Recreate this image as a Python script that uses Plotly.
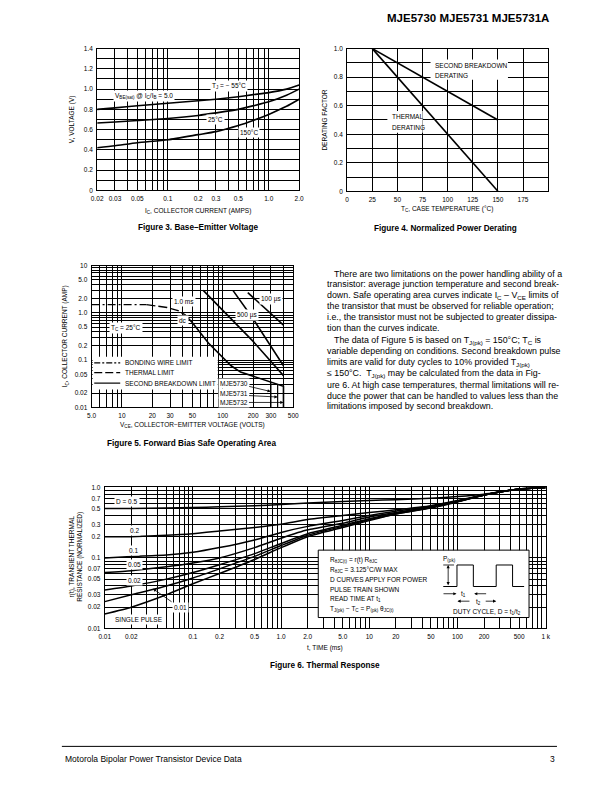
import math
import plotly.graph_objects as go

W, H = 612, 792
FONT = "Liberation Sans, Arial, Helvetica, sans-serif"

# ---------------- Figure 3: base-emitter voltage ----------------
ic_amps = [0.02, 0.03, 0.05, 0.1, 0.2, 0.3, 0.5, 0.7, 1.0, 1.5, 2.0]
vbe_m55 = [0.80, 0.815, 0.835, 0.86, 0.885, 0.90, 0.925, 0.945, 0.965, 1.0, 1.04]
vbe_25 = [0.665, 0.675, 0.69, 0.71, 0.74, 0.765, 0.80, 0.835, 0.875, 0.94, 1.0]
vbe_150 = [0.42, 0.44, 0.47, 0.50, 0.55, 0.58, 0.64, 0.69, 0.75, 0.83, 0.90]

# ---------------- Figure 4: power derating ----------------
tc_deg = [25, 150]
sb_derating = [1.0, 0.5]
th_derating = [1.0, 0.0]

# ---------------- Figure 5: forward bias SOA ----------------
bw_v = [5.0, 17.5]
bw_i = [1.5, 1.5]
thl_v = [17.5, 28, 36, 42]
thl_i = [1.5, 1.3, 1.12, 0.92]
dc_v = [42, 50, 72, 97, 121, 150, 200, 300, 350, 400, 400]
dc_i = [0.92, 0.62, 0.23, 0.124, 0.076, 0.056, 0.046, 0.035, 0.031, 0.028, 0.01]
vceo_v = [300, 350]          # voltage limits of the lower-rated parts
vceo_top = [0.035, 0.031]
ms1_v = [64, 100, 200, 400]
ms1_i = [3.0, 1.15, 0.25, 0.047]
us500_v = [126, 200, 400]
us500_i = [3.0, 0.75, 0.076]
us100_v = [177, 400]
us100_i = [2.7, 0.55]

# ---------------- Figure 6: thermal response ----------------
t_ms = [0.01, 0.02, 0.05, 0.1, 0.2, 0.5, 1.0, 2.0, 5.0, 10, 20, 50, 100, 200, 500, 1000]
r_d05 = [0.50, 0.50, 0.51, 0.52, 0.53, 0.55, 0.57, 0.60, 0.63, 0.65, 0.67, 0.70, 0.74, 0.80, 0.95, 1.0]
r_d02 = [0.20, 0.20, 0.21, 0.22, 0.24, 0.27, 0.30, 0.35, 0.40, 0.44, 0.48, 0.55, 0.65, 0.78, 0.95, 1.0]
r_d01 = [0.10, 0.105, 0.11, 0.12, 0.14, 0.18, 0.23, 0.28, 0.34, 0.40, 0.46, 0.54, 0.64, 0.78, 0.95, 1.0]
r_d005 = [0.062, 0.066, 0.075, 0.085, 0.10, 0.14, 0.19, 0.25, 0.31, 0.38, 0.44, 0.53, 0.63, 0.78, 0.95, 1.0]
r_d002 = [0.035, 0.04, 0.05, 0.062, 0.08, 0.115, 0.16, 0.22, 0.29, 0.36, 0.43, 0.52, 0.63, 0.78, 0.95, 1.0]
r_d001 = [0.024, 0.03, 0.04, 0.052, 0.07, 0.105, 0.15, 0.21, 0.28, 0.35, 0.42, 0.52, 0.63, 0.78, 0.95, 1.0]
r_single = [0.016, 0.02, 0.03, 0.043, 0.06, 0.095, 0.14, 0.20, 0.27, 0.34, 0.42, 0.51, 0.62, 0.78, 0.95, 1.0]

# tick labels
f3_xlabels = {0.02: "0.02", 0.03: "0.03", 0.05: "0.05", 0.1: "0.1", 0.2: "0.2", 0.3: "0.3",
              0.5: "0.5", 1.0: "1.0", 2.0: "2.0"}
f5_xlabels = {5: "5.0", 10: "10", 20: "20", 30: "30", 50: "50", 100: "100", 200: "200",
              300: "300", 500: "500"}
f5_ylabels = {0.01: "0.01", 0.02: "0.02", 0.05: "0.05", 0.1: "0.1", 0.2: "0.2", 0.5: "0.5",
              1: "1.0", 2: "2.0", 5: "5.0", 10: "10"}
f6_xlabels = {0.01: "0.01", 0.02: "0.02", 0.1: "0.1", 0.2: "0.2", 0.5: "0.5", 1: "1.0",
              2: "2.0", 5: "5.0", 10: "10", 20: "20", 50: "50", 100: "100", 200: "200",
              500: "500", 1000: "1 k"}
f6_ylabels = {0.01: "0.01", 0.02: "0.02", 0.03: "0.03", 0.05: "0.05", 0.07: "0.07",
              0.1: "0.1", 0.2: "0.2", 0.3: "0.3", 0.5: "0.5", 0.7: "0.7", 1: "1.0"}


def px(x):
    return x / W


def py(y):
    return 1 - y / H


def log_grid(lo, hi):
    vals = []
    for e in range(math.floor(math.log10(lo)), math.ceil(math.log10(hi)) + 1):
        for m in range(1, 10):
            v = round(m * 10 ** e, 10)
            if lo * 0.999 <= v <= hi * 1.001:
                vals.append(v)
    return vals


def labels_for(vals, lab):
    lk = {round(k, 10): t for k, t in lab.items()}
    return [lk.get(round(v, 10), "") for v in vals]


def axis(box, horiz, rng, vals, texts, typ="linear", anchor=None):
    x0, x1, y0, y1 = box
    dom = [px(x0), px(x1)] if horiz else [py(y1), py(y0)]
    return dict(domain=dom, range=rng, type=typ, tickvals=vals, ticktext=texts,
                showgrid=True, gridcolor="black", gridwidth=0.9, showline=True,
                linecolor="black", linewidth=1, mirror=True, ticks="outside",
                ticklen=2, tickcolor="rgba(0,0,0,0)", zeroline=False, anchor=anchor,
                tickfont=dict(size=6.5, family=FONT, color="black"), fixedrange=True)


box3 = (93, 299, 45, 188)
box4 = (348, 553, 45, 189)
box5 = (87.3, 293, 264, 407)
box6 = (100.7, 550.5, 487.7, 630)

fig = go.Figure()
line = dict(color="black", width=1.6)

# figure 3 curves
for yv in (vbe_m55, vbe_25, vbe_150):
    fig.add_trace(go.Scatter(x=ic_amps, y=yv, mode="lines", xaxis="x", yaxis="y",
                             line=dict(color="black", width=1.6, shape="spline", smoothing=0.6)))
# figure 4 curves
for yv in (sb_derating, th_derating):
    fig.add_trace(go.Scatter(x=tc_deg, y=yv, mode="lines", xaxis="x2", yaxis="y2", line=line))
# figure 5 curves
fig.add_trace(go.Scatter(x=bw_v, y=bw_i, mode="lines", xaxis="x3", yaxis="y3",
                         line=dict(color="black", width=1.4, dash="8px,3px,2px,3px")))
fig.add_trace(go.Scatter(x=thl_v, y=thl_i, mode="lines", xaxis="x3", yaxis="y3",
                         line=dict(color="black", width=1.4, dash="9px,3px")))
for xv, yv in ((dc_v, dc_i), (ms1_v, ms1_i), (us500_v, us500_i), (us100_v, us100_i)):
    fig.add_trace(go.Scatter(x=xv, y=yv, mode="lines", xaxis="x3", yaxis="y3", line=line))
for v, top_i in zip(vceo_v, vceo_top):
    fig.add_trace(go.Scatter(x=[v, v], y=[top_i, 0.01], mode="lines", xaxis="x3", yaxis="y3",
                             line=dict(color="black", width=1.2)))
# figure 6 curves
for yv in (r_d05, r_d02, r_d01, r_d005, r_d002, r_d001, r_single):
    fig.add_trace(go.Scatter(x=t_ms, y=yv, mode="lines", xaxis="x4", yaxis="y4",
                             line=dict(color="black", width=1.5, shape="spline", smoothing=0.5)))

g3x = log_grid(0.02, 2.0)
g3y = [round(0.1 * i, 2) for i in range(15)]
g4x = [0, 25, 50, 75, 100, 125, 150, 175]
g4y = [round(0.1 * i, 2) for i in range(11)]
g5x = log_grid(5, 500)
g5y = log_grid(0.01, 10)
g6x = log_grid(0.01, 1000)
g6y = log_grid(0.01, 1.0)

fig.update_layout(
    width=W, height=H, margin=dict(l=0, r=0, t=0, b=0),
    paper_bgcolor="white", plot_bgcolor="white", showlegend=False,
    font=dict(family=FONT, color="black"),
    xaxis=axis(box3, True, [math.log10(0.02), math.log10(2.0)], g3x, labels_for(g3x, f3_xlabels), "log", "y"),
    yaxis=axis(box3, False, [0, 1.4], g3y, [("0" if v == 0 else f"{v:.1f}") if i % 2 == 0 else "" for i, v in enumerate(g3y)], anchor="x"),
    xaxis2=axis(box4, True, [0, 200], g4x, [str(v) for v in g4x], anchor="y2"),
    yaxis2=axis(box4, False, [0, 1.0], g4y, [("0" if v == 0 else f"{v:.1f}") if i % 2 == 0 else "" for i, v in enumerate(g4y)], anchor="x2"),
    xaxis3=axis(box5, True, [math.log10(5), math.log10(500)], g5x, labels_for(g5x, f5_xlabels), "log", "y3"),
    yaxis3=axis(box5, False, [-2, 1], g5y, labels_for(g5y, f5_ylabels), "log", "x3"),
    xaxis4=axis(box6, True, [-2, 3], g6x, labels_for(g6x, f6_xlabels), "log", "y4"),
    yaxis4=axis(box6, False, [-2, 0], g6y, labels_for(g6y, f6_ylabels), "log", "x4"),
)

anns = []
shapes = []


def txt(x, y, s, size=6.5, xa="center", bg=None, bold=False, angle=0, ya="middle"):
    if bold:
        s = "<b>" + s + "</b>"
    d = dict(x=px(x), y=py(y), xref="paper", yref="paper", text=s, showarrow=False,
             xanchor=xa, yanchor=ya, textangle=angle, borderpad=1,
             font=dict(size=size, family=FONT, color="black"))
    if bg:
        d["bgcolor"] = bg
    anns.append(d)


def seg(x0, y0, x1, y1, w=1, dash=None):
    ln = dict(color="black", width=w)
    if dash:
        ln["dash"] = dash
    shapes.append(dict(type="line", xref="paper", yref="paper", x0=px(x0), y0=py(y0),
                       x1=px(x1), y1=py(y1), line=ln, layer="above"))


def rect(x0, y0, x1, y1, border=True):
    shapes.append(dict(type="rect", xref="paper", yref="paper", x0=px(x0), y0=py(y1),
                       x1=px(x1), y1=py(y0), fillcolor="white",
                       line=dict(color="black", width=1) if border else dict(width=0),
                       layer="above"))


def arrow(hx, hy, tx, ty, both=False):
    anns.append(dict(x=px(hx), y=py(hy), xref="paper", yref="paper", ax=tx - hx, ay=ty - hy,
                     axref="pixel", ayref="pixel", text="", showarrow=True, arrowhead=2,
                     arrowsize=0.8, arrowwidth=0.8, arrowcolor="black",
                     arrowside="end+start" if both else "end"))


# header
txt(556, 14, "MJE5730 MJE5731 MJE5731A", size=11.5, xa="right", bold=True)

# figure 3 text
txt(140.5, 93, "V<sub>BE(sat)</sub> @ I<sub>C</sub>/I<sub>B</sub> = 5.0", bg="white")
txt(227, 83, "T<sub>J</sub> = − 55°C", bg="white")
txt(214, 117, "25°C", bg="white")
txt(248, 130, "150°C", bg="white")
txt(68, 116.5, "V, VOLTAGE (V)", angle=-90)
txt(196, 209, "I<sub>C</sub>, COLLECTOR CURRENT (AMPS)")
txt(196, 225, "Figure 3. Base–Emitter Voltage", size=8.2, bold=True)

# figure 4 text
rect(433, 56, 512, 76.5, border=False)
txt(436, 62, "SECOND BREAKDOWN", xa="left")
txt(436, 72, "DERATING", xa="left")
rect(389, 108, 425, 130, border=False)
txt(392, 114, "THERMAL", xa="left")
txt(392, 124.5, "DERATING", xa="left")
txt(325, 117, "DERATING FACTOR", angle=-90)
txt(450, 207, "T<sub>C</sub>, CASE TEMPERATURE (°C)")
txt(448, 226, "Figure 4. Normalized Power Derating", size=8.2, bold=True)

# figure 5 text
rect(88.3, 356, 216, 389, border=False)
seg(90, 362, 116.5, 362, w=1.2, dash="6px,2px,2px,2px")
seg(90, 372, 116.5, 372, w=1.2, dash="8px,3px")
seg(90, 382.5, 116.5, 382.5, w=1.2)
txt(119.5, 362, "BONDING WIRE LIMIT", xa="left")
txt(119.5, 372, "THERMAL LIMIT", xa="left")
txt(119.5, 382.5, "SECOND BREAKDOWN LIMIT", xa="left")
txt(122, 327, "T<sub>C</sub> = 25°C", bg="white")
txt(182, 300, "1.0 ms", bg="white")
txt(181, 319.5, "dc", bg="white")
txt(245.5, 313.5, "500 µs", bg="white")
txt(270, 298, "100 µs", bg="white")
txt(233, 382.5, "MJE5730", bg="white")
txt(233, 392.5, "MJE5731", bg="white")
txt(233, 402, "MJE5732", bg="white")
arrow(270, 391, 247, 385.5)
arrow(277, 396.5, 247, 395)
arrow(283, 402, 247, 402)
txt(60, 335.5, "I<sub>C</sub>, COLLECTOR CURRENT (AMP)", angle=-90)
txt(190, 425, "V<sub>CE</sub>, COLLECTOR−EMITTER VOLTAGE (VOLTS)")
txt(189, 443, "Figure 5. Forward Bias Safe Operating Area", size=8.2, bold=True)

# paragraph
para = [
    (333, 272, "There are two limitations on the power handling ability of a"),
    (325, 283, "transistor: average junction temperature and second break-"),
    (325, 294, "down. Safe operating area curves indicate I<sub>C</sub> – V<sub>CE</sub> limits of"),
    (325, 305, "the transistor that must be observed for reliable operation;"),
    (325, 316, "i.e., the transistor must not be subjected to greater dissipa-"),
    (325, 327, "tion than the curves indicate."),
    (333, 339, "The data of Figure 5 is based on T<sub>J(pk)</sub> = 150°C; T<sub>C</sub> is"),
    (325, 350, "variable depending on conditions. Second breakdown pulse"),
    (325, 361.5, "limits are valid for duty cycles to 10% provided T<sub>J(pk)</sub>"),
    (325, 373, "≤ 150°C.  T<sub>J(pk)</sub> may be calculated from the data in Fig-"),
    (325, 384, "ure 6. At high case temperatures, thermal limitations will re-"),
    (325, 395, "duce the power that can be handled to values less than the"),
    (325, 406, "limitations imposed by second breakdown."),
]
for x, y, s in para:
    txt(x, y, s, size=8.85, xa="left")

# figure 6 text
txt(123, 501.5, "D = 0.5", bg="white")
txt(131, 531.5, "0.2", bg="white")
txt(130, 551, "0.1", bg="white")
txt(131.5, 565, "0.05", bg="white")
txt(131.5, 581.5, "0.02", bg="white")
txt(178, 608.5, "0.01", bg="white")
arrow(150, 590, 170, 604)
txt(136, 621, "SINGLE PULSE", bg="white")
rect(318.5, 551, 533.5, 619)
for i, s in enumerate([
        "R<sub>θJC(t)</sub> = r(t) R<sub>θJC</sub>",
        "R<sub>θJC</sub> = 3.125°C/W MAX",
        "D CURVES APPLY FOR POWER",
        "PULSE TRAIN SHOWN",
        "READ TIME AT t<sub>1</sub>",
        "T<sub>J(pk)</sub> − T<sub>C</sub> = P<sub>(pk)</sub> θ<sub>JC(t)</sub>"]):
    txt(328, 561 + 9.9 * i, s, xa="left")
# pulse train sketch
base, top = 587.7, 566
for (a, b, c, d) in [(446, base, 460, base), (460, base, 460, top), (460, top, 476.7, top),
                     (476.7, top, 476.7, base), (476.7, base, 500, base), (500, base, 500, top),
                     (500, top, 516.7, top), (516.7, top, 516.7, base), (516.7, base, 528.5, base)]:
    seg(a, b, c, d, w=1)
seg(446, top, 457, top, w=0.8)
arrow(451, top, 451, base, both=True)
txt(452, 560, "P<sub>(pk)</sub>")
arrow(459.5, 595, 445, 595)
arrow(477.5, 595, 491, 595)
txt(467, 595.5, "t<sub>1</sub>")
arrow(460.5, 602.5, 474, 602.5)
arrow(500, 602.5, 488, 602.5)
txt(481.5, 603, "t<sub>2</sub>")
txt(491, 613, "DUTY CYCLE, D = t<sub>1</sub>/t<sub>2</sub>")
txt(71, 558, "r(t), TRANSIENT THERMAL<br>RESISTANCE (NORMALIZED)", angle=-90)
txt(325.5, 650, "t, TIME (ms)")
txt(325.5, 667, "Figure 6. Thermal Response", size=8.2, bold=True)

# footer
seg(57, 749, 562, 749, w=1)
txt(58, 762, "Motorola Bipolar Power Transistor Device Data", size=8.5, xa="left")
txt(562, 762, "3", size=8.5, xa="right")

fig.update_layout(annotations=anns, shapes=shapes)
fig.write_html("out.html", config={"displayModeBar": False},
               post_script="document.body.style.margin='0px';")
